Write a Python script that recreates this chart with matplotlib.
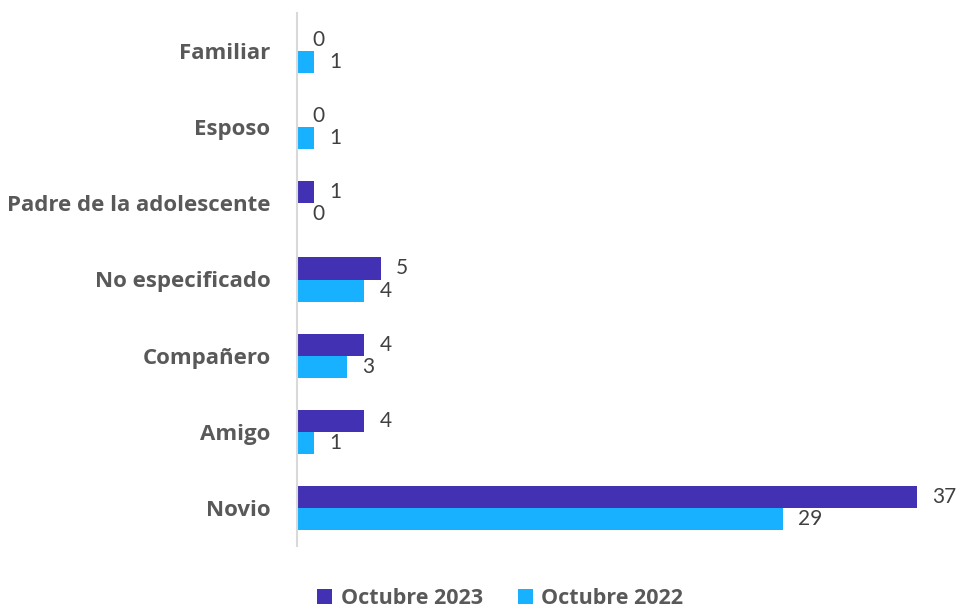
import matplotlib.pyplot as plt
import numpy as np

categories = ['Novio', 'Amigo', 'Compañero', 'No especificado',
              'Padre de la adolescente', 'Esposo', 'Familiar']
oct_2023 = [37, 4, 4, 5, 1, 0, 0]
oct_2022 = [29, 1, 3, 4, 0, 1, 1]

purple = '#4331B3'
blue = '#17B1FF'
gray = '#595959'

plt.rcParams['font.family'] = ['Open Sans', 'DejaVu Sans']

fig = plt.figure(figsize=(9.62, 6.10), dpi=100)
ax = fig.add_axes([297 / 962, 1 - 546 / 610, 620 / 962, 533 / 610])

y = np.arange(len(categories))
h = 0.29
b1 = ax.barh(y + h / 2, oct_2023, height=h, color=purple, label='Octubre 2023')
b2 = ax.barh(y - h / 2, oct_2022, height=h, color=blue, label='Octubre 2022')

for bars, vals in ((b1, oct_2023), (b2, oct_2022)):
    for rect, v in zip(bars, vals):
        ax.annotate(str(v), (v, rect.get_y() + rect.get_height() / 2),
                    xytext=(11, 0), textcoords='offset points',
                    ha='left', va='center', fontsize=15, color='#404040',
                    family=['Lato', 'DejaVu Sans'], annotation_clip=False)

ax.set_xlim(0, 37)
ax.set_ylim(-0.5, len(categories) - 0.5)
ax.set_yticks(y)
ax.set_yticklabels(categories, fontsize=16, fontweight='bold', color=gray)
ax.tick_params(axis='y', length=0, pad=19)
ax.set_xticks([])
for s in ['top', 'right', 'bottom']:
    ax.spines[s].set_visible(False)
ax.spines['left'].set_color('#D9D9D9')
ax.spines['left'].set_linewidth(1.5)

leg = fig.legend(loc='lower center', bbox_to_anchor=(0.52, -0.03), ncol=2,
                 frameon=False, handlelength=0.7, handleheight=0.7,
                 handletextpad=0.4, columnspacing=1.6,
                 prop={'size': 15.5, 'weight': 'bold'})
for t in leg.get_texts():
    t.set_color(gray)

fig.savefig('out.png', dpi=100)
